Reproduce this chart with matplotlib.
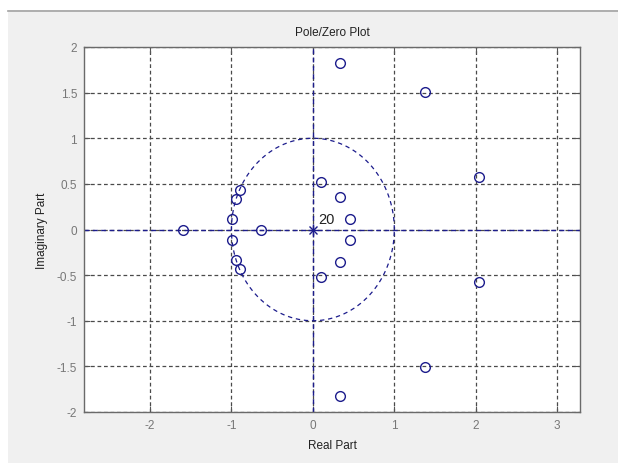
import numpy as np
import matplotlib
matplotlib.use("Agg")
import matplotlib.pyplot as plt
from matplotlib.patches import Rectangle

plt.rcParams['font.family'] = ['Liberation Sans', 'DejaVu Sans']
plt.rcParams['axes.unicode_minus'] = False

# Zeros of the filter (real part, imaginary part)
zero_re = [0.33, 0.33, 1.38, 1.38, 2.04, 2.04, -1.59, -0.64,
           -0.90, -0.90, -0.945, -0.945, -0.99, -0.99,
           0.094, 0.094, 0.33, 0.33, 0.45, 0.45]
zero_im = [1.82, -1.82, 1.51, -1.51, 0.57, -0.57, 0.0, 0.0,
           0.43, -0.43, 0.33, -0.33, 0.12, -0.12,
           0.52, -0.52, 0.36, -0.36, 0.12, -0.12]
# Poles: all at the origin
pole_re = [0.0]
pole_im = [0.0]
pole_multiplicity = 20

xlim = (-2.81, 3.28)
ylim = (-2.0, 2.0)
xticks = [-2, -1, 0, 1, 2, 3]
yticks = [-2, -1.5, -1, -0.5, 0, 0.5, 1, 1.5, 2]
ytick_labels = ['-2', '-1.5', '-1', '-0.5', '0', '0.5', '1', '1.5', '2']

navy = '#1c1c8c'
grid_col = '#4a4a4a'

fig = plt.figure(figsize=(6.18, 4.64), dpi=100)
fig.patch.set_facecolor('white')
# window background panel
fig.patches.append(Rectangle((8 / 618, 0), 1, (464 - 13) / 464,
                             transform=fig.transFigure, facecolor='#f0f0f0',
                             edgecolor='none', zorder=-10))
fig.lines.append(plt.Line2D([8 / 618, 1], [(464 - 12) / 464] * 2,
                            transform=fig.transFigure, color='#a0a0a0', lw=1.2))

ax = fig.add_axes([84 / 618, 1 - 413 / 464, 496 / 618, 365 / 464])
ax.set_facecolor('white')
ax.set_xlim(*xlim)
ax.set_ylim(*ylim)

ax.set_xticks(xticks)
ax.set_yticks(yticks)
ax.set_yticklabels(ytick_labels)
ax.grid(True, color=grid_col, linestyle=(0, (3, 2.2)), linewidth=0.9)
ax.set_axisbelow(True)
ax.tick_params(direction='in', length=4, top=True, right=True,
               labelsize=8.5, labelcolor='#777777', color='#555555', pad=5)
for s in ax.spines.values():
    s.set_color('#6a6a6a')
    s.set_linewidth(1.0)

# Real and imaginary axes
ax.axhline(0, color=navy, linestyle=(0, (3.5, 2.5)), linewidth=1.0, zorder=2)
ax.axvline(0, color=navy, linestyle=(0, (3.5, 2.5)), linewidth=1.0, zorder=2)

# Unit circle
t = np.linspace(0, 2 * np.pi, 400)
ax.plot(np.cos(t), np.sin(t), color=navy, linestyle=(0, (3.5, 3)),
        linewidth=0.9, zorder=2)

ax.plot(zero_re, zero_im, linestyle='none', marker='o', markersize=7,
        markerfacecolor='none', markeredgecolor=navy, markeredgewidth=1.0,
        zorder=3)
ax.plot(pole_re, pole_im, linestyle='none', marker='x', markersize=6,
        markeredgecolor=navy, markeredgewidth=1.0, zorder=3)
ax.plot(pole_re, pole_im, linestyle='none', marker='+', markersize=7,
        markeredgecolor=navy, markeredgewidth=1.0, zorder=3)
ax.text(pole_re[0] + 0.07, pole_im[0] + 0.11, str(pole_multiplicity),
        fontsize=10.5, color='#222222', ha='left', va='center')

ax.set_title('Pole/Zero Plot', fontsize=8.5, color='#222222', pad=9)
ax.set_xlabel('Real Part', fontsize=8.5, color='#222222', labelpad=6)
ax.set_ylabel('Imaginary Part', fontsize=8.5, color='#222222', labelpad=6)

fig.savefig('out.png', dpi=100, facecolor=fig.get_facecolor())
